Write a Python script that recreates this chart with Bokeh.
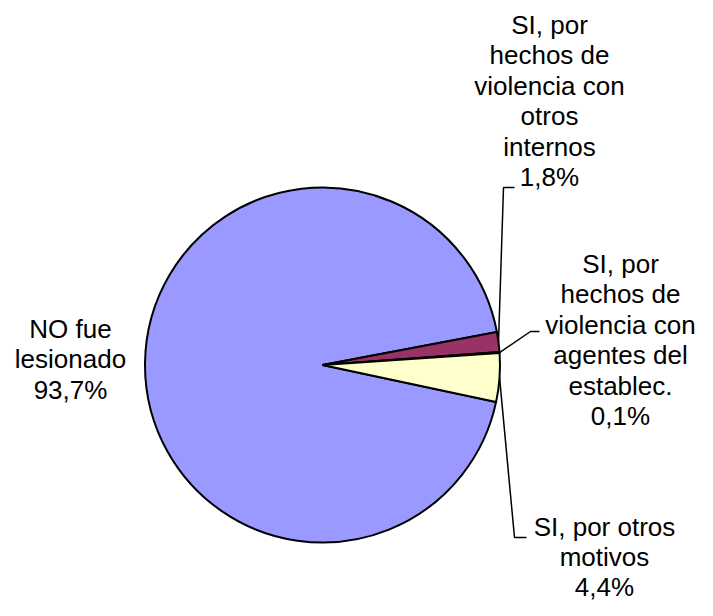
import math
from bokeh.plotting import figure
from bokeh.models import Range1d, ColumnDataSource
from bokeh.core.properties import value
from bokeh.embed import file_html
from bokeh.resources import INLINE

# ---- data ----
categories = ["NO fue lesionado",
              "SI, por hechos de violencia con otros internos",
              "SI, por hechos de violencia con agentes del establec.",
              "SI, por otros motivos"]
percentages = [93.7, 1.8, 0.1, 4.4]
pct_labels = ["93,7%", "1,8%", "0,1%", "4,4%"]
label_lines = [["NO fue", "lesionado"],
               ["SI, por", "hechos de", "violencia con", "otros", "internos"],
               ["SI, por", "hechos de", "violencia con", "agentes del", "establec."],
               ["SI, por otros", "motivos"]]
colors = ["#9999FF", "#993366", "#FFFFCC", "#FFFFCC"]

# ---- layout (picture pixel coordinates) ----
W, H = 697, 600
cx, cy_pix, R = 322, 364.5, 177.5
start_deg = -12.0          # first slice starts here and runs clockwise
font = "Liberation Sans"
fsize = "26px"
text_shift = 9             # rendered text sits this much lower than its anchor
line_steps = [30.5, 30.5, 30.5, 30.0]
label_anchor = [(70, 337), (549, 33), (620, 272), (604, 535)]   # centre x, first baseline
elbows = [None, [(503, 187), (514, 187)], [(530, 331), (539, 331)], [(514, 537), (526, 537)]]


def Y(py):
    return H - py


p = figure(width=W, height=H, output_backend="svg", toolbar_location=None,
           x_range=Range1d(0, W), y_range=Range1d(0, H),
           min_border=0)
p.axis.visible = False
p.grid.visible = False
p.outline_line_color = None
p.background_fill_color = "white"

total = sum(percentages)
starts, ends, mids = [], [], []
cum = 0.0
for v in percentages:
    a0 = start_deg - cum / total * 360.0
    cum += v
    a1 = start_deg - cum / total * 360.0
    starts.append(math.radians(a0))
    ends.append(math.radians(a1))
    mids.append(math.radians((a0 + a1) / 2))

src = ColumnDataSource(dict(x=[cx] * 4, y=[Y(cy_pix)] * 4, start=starts, end=ends,
                            color=colors, name=categories))
p.wedge(x="x", y="y", radius=R, start_angle="start", end_angle="end",
        direction="clock", fill_color="color", line_color="black", line_width=2,
        source=src)

# leader lines
for i, el in enumerate(elbows):
    if el is None:
        continue
    ex = cx + R * math.cos(mids[i])
    ey = Y(cy_pix) + R * math.sin(mids[i])
    xs = [ex] + [q[0] for q in el]
    ys = [ey] + [Y(q[1]) for q in el]
    p.line(xs, ys, line_color="black", line_width=1.5)

# labels
tx, ty, tt = [], [], []
for i, lines in enumerate(label_lines):
    ax, ab = label_anchor[i]
    for j, t in enumerate(lines + [pct_labels[i]]):
        tx.append(ax)
        ty.append(Y(ab + j * line_steps[i] - text_shift))
        tt.append(t)
p.text(x=tx, y=ty, text=tt, text_font=value(font), text_font_size=fsize,
       text_align="center", text_baseline="alphabetic", text_color="black")

open("out.html", "w").write(file_html(p, INLINE))
